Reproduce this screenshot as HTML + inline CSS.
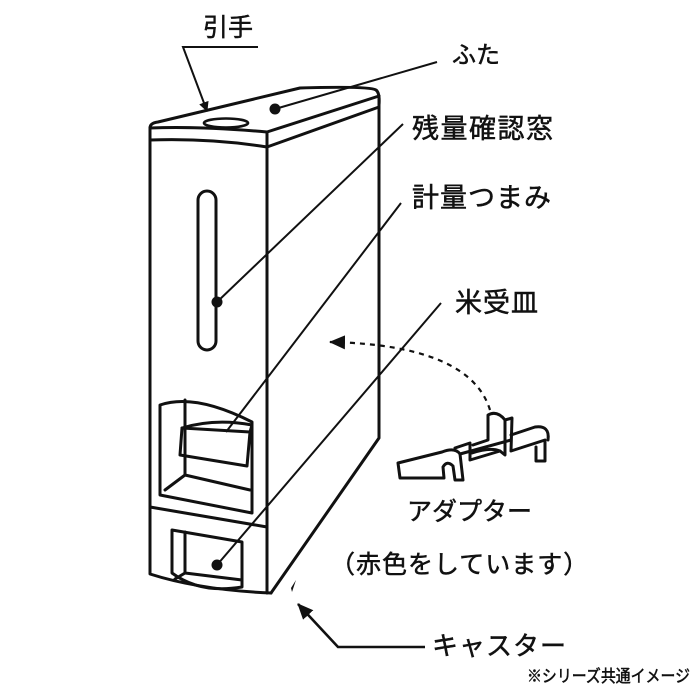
<!DOCTYPE html>
<html><head><meta charset="utf-8"><style>
html,body{margin:0;padding:0;background:#fff;}
svg{display:block}
text{font-family:"Liberation Sans","Noto Sans CJK JP",sans-serif;fill:#111;stroke:#111;stroke-width:0.5;}
</style></head><body>
<svg width="700" height="700" viewBox="0 0 700 700" xmlns="http://www.w3.org/2000/svg">
<defs>
<marker id="ah" markerWidth="10" markerHeight="10" refX="9" refY="5" orient="auto" markerUnits="userSpaceOnUse"><path d="M0,0 L10,5 L0,10 z" fill="#111"/></marker>
<marker id="ah2" markerWidth="16" markerHeight="14" refX="15" refY="7" orient="auto" markerUnits="userSpaceOnUse"><path d="M0,0 L16,7 L0,14 z" fill="#111"/></marker>
</defs>
<g fill="none" stroke="#111" stroke-width="3" stroke-linejoin="round" stroke-linecap="round">
<!-- lid -->
<path d="M150,128 Q150,123 158,122 L300,88 Q370,86 376,90 Q380,93 379,105"/>
<path d="M150,128 Q200,126 267,132 L379,96"/>
<path d="M150,140 Q210,138 267,147 L379,107"/>
<!-- body -->
<path d="M150,128 L150,574 Q200,590 271,593"/>
<path d="M267,132 L267,593"/>
<path d="M379,96 L379,438 L271,593"/>
<!-- slot -->
<rect x="198" y="191" width="18" height="159" rx="9"/>
<!-- upper recess -->
<path d="M160,405 Q195,393 252,422 L252,513 L160,495 Z"/>
<path d="M185,400 L185,474"/>
<path d="M182,428 L250,432 L247,466 L180,455 Z"/>
<path d="M182,428 Q215,418 252,425 L250,432"/>
<path d="M165,490 L185,475 L250,490"/>
<path d="M150,507 L267,527"/>
<!-- lower recess -->
<path d="M172,530 L242,542 L242,587 Q200,594 172,573 Z"/>
<path d="M185,532 L185,573 L242,580"/>
<path d="M185,573 L175,579"/>
<!-- adapter -->
<path d="M398,463 L442,452 Q455,447 460,454 L463,480 L455,480 L453,466 Q447,460 443,467 L444,478 L400,478 Z"/>
<path d="M455,448 L470,443 L470,460 L500,451 L505,455 L505,420 Q497,410 488,415 L488,440 L473,445"/>
<path d="M505,420 L512,418 L511,451 L545,440 L545,461 L536,461 L536,447"/>
<path d="M511,435 L535,427 Q550,425 548,440"/>
<path d="M460,454 L511,440"/>
<path d="M472,453 Q490,447 500,451"/>
</g>
<!-- leaders -->
<g stroke="#111" stroke-width="2" fill="none">
<path d="M275,109 L437,62"/>
<path d="M217,302 L403,124"/>
<path d="M226,432 L401,203"/>
<path d="M217,565 L441,303"/>
<path d="M258,47 L183,47 L207,111" marker-end="url(#ah)"/>
<path d="M425,647 L338,647 L298,604" stroke-width="2.6" marker-end="url(#ah2)"/>
<path d="M490,410 Q470,345 330,342" stroke-dasharray="5,5" stroke-width="2.2" marker-end="url(#ah2)"/>
</g>
<g fill="#111">
<circle cx="275" cy="109" r="5.5"/>
<circle cx="217" cy="302" r="5.5"/>
<circle cx="217" cy="565" r="5.5"/>
<path d="M291,588 L296,580 L292,592 Z"/>
</g>
<ellipse cx="226" cy="123" rx="22" ry="4.5" fill="#fff" stroke="#111" stroke-width="2.6"/>
<text x="203" y="36" font-size="25">引手</text>
<text x="452" y="63" font-size="24">ふた</text>
<text x="412" y="138" font-size="27" letter-spacing="1.5">残量確認窓</text>
<text x="412" y="207" font-size="27" letter-spacing="1">計量つまみ</text>
<text x="455" y="312" font-size="27" letter-spacing="1">米受皿</text>
<text x="407" y="520" font-size="25">アダプター</text>
<text x="330" y="573" font-size="25" letter-spacing="1">（赤色をしています）</text>
<text x="432" y="655" font-size="26" letter-spacing="1">キャスター</text>
<text x="527" y="682" font-size="17" stroke-width="0.2" textLength="163" lengthAdjust="spacingAndGlyphs">※シリーズ共通イメージ</text>
</svg>
</body></html>
